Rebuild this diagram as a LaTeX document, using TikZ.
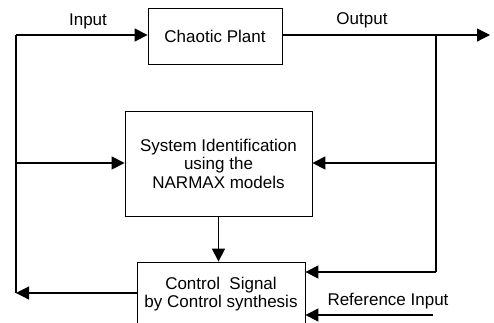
\documentclass[tikz,border=0pt]{standalone}
\usepackage{fontspec}
\setmainfont{Liberation Sans}
\usepackage{tikz}
\usetikzlibrary{arrows.meta,positioning,calc}
\tikzset{
  blockBox/.style={draw, line width=0.8pt, align=center, inner sep=0pt},
  sigLine/.style={line width=1.2pt, -{Triangle[length=13pt,width=13pt]}},
  plainLine/.style={line width=1.2pt}
}

\begin{document}
\begin{tikzpicture}[x=1pt, y=-1pt, font=\fontsize{17}{18.5}\selectfont]
\useasboundingbox (0,0) rectangle (494,322);
\clip (0,0) rectangle (494,322);
% ---- blocks ----
\node[blockBox, minimum width=134pt, minimum height=56pt] (plant) at (215,36) {Chaotic Plant};
\node[blockBox, minimum width=187pt, minimum height=105pt] (sysid) at (218.5,163.5)
  {System Identification\\ using the\\ NARMAX models};
\node[blockBox, minimum width=168pt, minimum height=64pt] (control) at (221,294)
  {Control~~Signal\\ by Control synthesis};
% ---- junction points ----
\coordinate (inLeft) at (16,35);
\coordinate (outEnd) at (490,35);
\coordinate (outSplit) at (436,35);
\coordinate (fbTurn) at (436,272);
\coordinate (refStart) at (433,315);
% ---- input side ----
\draw[sigLine] (inLeft) -- (plant.west |- inLeft);
\draw[plainLine] (inLeft) -- (16,293);
\draw[sigLine] (16,163) -- (sysid.west |- 16,163);
\draw[sigLine] (control.west |- 16,293) -- (16,293);
\node (inLbl) at (88,21) {Input};
% ---- output side ----
\draw[sigLine] (plant.east |- outEnd) -- (outEnd);
\node (outLbl) at (362,20) {Output};
\draw[plainLine] (outSplit) -- (fbTurn);
\draw[sigLine] (436,163) -- (sysid.east |- 436,163);
\draw[sigLine] (fbTurn) -- (control.east |- fbTurn);
% ---- identification to control ----
\draw[sigLine] (sysid.south) -- (sysid.south |- control.north);
% ---- reference ----
\draw[sigLine] (refStart) -- (control.east |- refStart);
\node (refLbl) at (388,301) {Reference Input};
\end{tikzpicture}
\end{document}
